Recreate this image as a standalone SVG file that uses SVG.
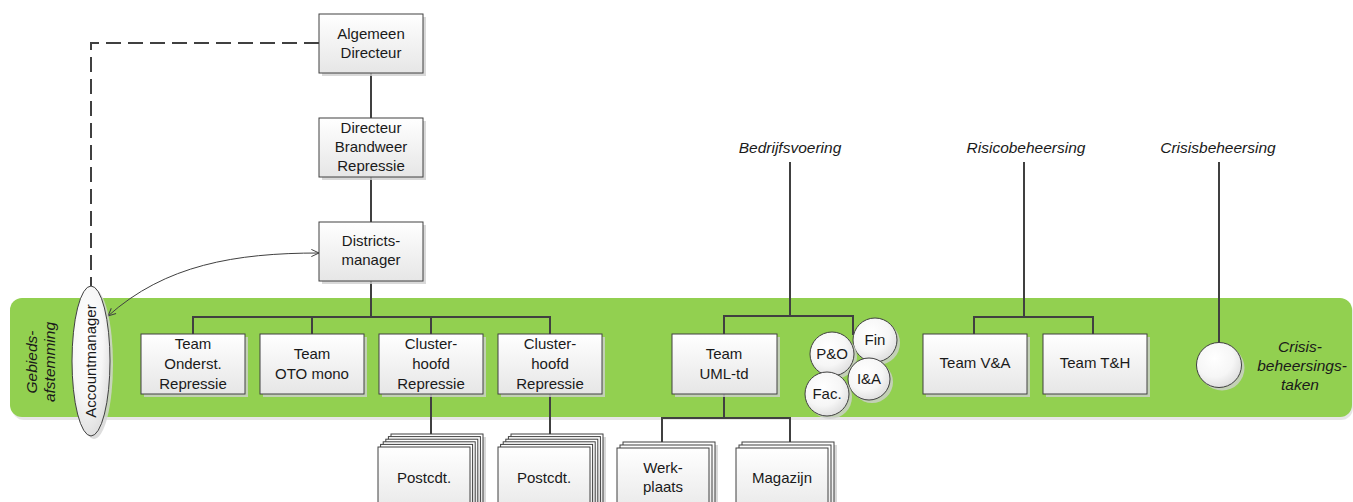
<svg xmlns="http://www.w3.org/2000/svg" width="1353" height="502" viewBox="0 0 1353 502">
<defs>
<linearGradient id="bx" x1="0" y1="0" x2="0" y2="1">
<stop offset="0" stop-color="#ffffff"/>
<stop offset="1" stop-color="#e6e6e6"/>
</linearGradient>
<radialGradient id="cg" cx="0.4" cy="0.35" r="0.7">
<stop offset="0" stop-color="#ffffff"/>
<stop offset="0.6" stop-color="#f6f6f6"/>
<stop offset="1" stop-color="#dcdcdc"/>
</radialGradient>
<marker id="oa" viewBox="0 0 10 10" refX="9.5" refY="5" markerWidth="9" markerHeight="9" markerUnits="userSpaceOnUse" orient="auto-start-reverse">
<path d="M1,1 L9.5,5 L1,9" fill="none" stroke="#404040" stroke-width="1.1"/>
</marker>
</defs>
<style>
.box{fill:url(#bx);stroke:#404040;stroke-width:1}
.sh{fill:#cfcfcf;opacity:0.8}
.circ{fill:url(#cg);stroke:#404040;stroke-width:1}
.t{font-family:"Liberation Sans",Arial,sans-serif;font-size:15px;fill:#1a1a1a;text-anchor:middle}
.ti{font-family:"Liberation Sans",Arial,sans-serif;font-size:15.5px;font-style:italic;fill:#1a1a1a;text-anchor:middle}
.ln{fill:none;stroke:#404040;stroke-width:2}
</style>
<rect width="1353" height="502" fill="#ffffff"/>

<g id="band">
<rect x="12" y="300" width="1341" height="120" rx="12" fill="#dcdcdc" opacity="0.7"/>
<rect x="10" y="298" width="1342" height="119" rx="12" fill="#92d050"/>
<text class="ti" transform="translate(37,362) rotate(-90)">Gebieds-</text>
<text class="ti" transform="translate(55,362) rotate(-90)">afstemming</text>
<text class="ti" x="1300" y="352">Crisis-</text>
<text class="ti" x="1302" y="371">beheersings-</text>
<text class="ti" x="1300" y="390">taken</text>
</g>

<g id="labels">
<text class="ti" x="790" y="153">Bedrijfsvoering</text>
<text class="ti" x="1026" y="153">Risicobeheersing</text>
<text class="ti" x="1218" y="153">Crisisbeheersing</text>
</g>

<g id="connectors">
<path class="ln" d="M319,43 H91 V287" stroke-dasharray="15,7" stroke-width="2.2"/>
<path class="ln" d="M371,73 V118 M371,177 V222 M371,281 V317"/>
<path class="ln" d="M193,334 V317 H550 V334 M312,317 V334 M431,317 V334"/>
<path class="ln" d="M431,394 V434 M550,394 V434"/>
<path class="ln" d="M724,394 V418 M662,448 V418 H790 V448"/>
<path class="ln" d="M790,162 V316 M724,334 V316 H853 V335"/>
<path class="ln" d="M1024,162 V317 M974,334 V317 H1093 V334"/>
<path class="ln" d="M1219,162 V343"/>
<path d="M108,316 C165,265 235,253 319,253" fill="none" stroke="#404040" stroke-width="1" marker-start="url(#oa)" marker-end="url(#oa)"/>
</g>

<g id="accountmanager">
<ellipse cx="94" cy="364" rx="19" ry="75" fill="#d4d4d4" opacity="0.8"/>
<ellipse cx="91" cy="361" rx="19" ry="75" class="circ"/>
<text class="t" transform="translate(96,361) rotate(-90)">Accountmanager</text>
</g>

<g id="algemeen-directeur">
<rect class="sh" x="322" y="17" width="104" height="59"/>
<rect class="box" x="319" y="14" width="104" height="59"/>
<text class="t" x="371" y="39">Algemeen</text>
<text class="t" x="371" y="58">Directeur</text>
</g>

<g id="directeur-brandweer">
<rect class="sh" x="322" y="121" width="104" height="59"/>
<rect class="box" x="319" y="118" width="104" height="59"/>
<text class="t" x="371" y="133">Directeur</text>
<text class="t" x="371" y="152">Brandweer</text>
<text class="t" x="371" y="171">Repressie</text>
</g>

<g id="districtsmanager">
<rect class="sh" x="322" y="225" width="104" height="59"/>
<rect class="box" x="319" y="222" width="104" height="59"/>
<text class="t" x="371" y="246">Districts-</text>
<text class="t" x="371" y="265">manager</text>
</g>

<g id="team-onderst">
<rect class="sh" x="144" y="337" width="104" height="60"/>
<rect class="box" x="141" y="334" width="104" height="60"/>
<text class="t" x="193" y="349">Team</text>
<text class="t" x="193" y="369">Onderst.</text>
<text class="t" x="193" y="389">Repressie</text>
</g>

<g id="team-oto">
<rect class="sh" x="263" y="337" width="104" height="60"/>
<rect class="box" x="260" y="334" width="104" height="60"/>
<text class="t" x="312" y="359">Team</text>
<text class="t" x="312" y="379">OTO mono</text>
</g>

<g id="clusterhoofd-1">
<rect class="sh" x="382" y="337" width="104" height="60"/>
<rect class="box" x="379" y="334" width="104" height="60"/>
<text class="t" x="431" y="349">Cluster-</text>
<text class="t" x="431" y="369">hoofd</text>
<text class="t" x="431" y="389">Repressie</text>
</g>

<g id="clusterhoofd-2">
<rect class="sh" x="501" y="337" width="104" height="60"/>
<rect class="box" x="498" y="334" width="104" height="60"/>
<text class="t" x="550" y="349">Cluster-</text>
<text class="t" x="550" y="369">hoofd</text>
<text class="t" x="550" y="389">Repressie</text>
</g>

<g id="team-uml">
<rect class="sh" x="675" y="337" width="105" height="60"/>
<rect class="box" x="672" y="334" width="105" height="60"/>
<text class="t" x="724" y="359">Team</text>
<text class="t" x="724" y="379">UML-td</text>
</g>

<g id="team-va">
<rect class="sh" x="926" y="337" width="104" height="60"/>
<rect class="box" x="923" y="334" width="104" height="60"/>
<text class="t" x="975" y="368">Team V&amp;A</text>
</g>

<g id="team-th">
<rect class="sh" x="1046" y="337" width="104" height="60"/>
<rect class="box" x="1043" y="334" width="104" height="60"/>
<text class="t" x="1095" y="368">Team T&amp;H</text>
</g>

<g id="fin">
<circle cx="878" cy="343" r="22" fill="#cfcfcf" opacity="0.8"/>
<circle class="circ" cx="875" cy="340" r="22"/>
<text class="t" x="875" y="345">Fin</text>
</g>
<g id="po">
<circle cx="835" cy="357" r="22" fill="#cfcfcf" opacity="0.8"/>
<circle class="circ" cx="832" cy="354" r="22"/>
<text class="t" x="832" y="359">P&amp;O</text>
</g>
<g id="ia">
<circle cx="872" cy="382" r="21" fill="#cfcfcf" opacity="0.8"/>
<circle class="circ" cx="869" cy="379" r="21"/>
<text class="t" x="869" y="384">I&amp;A</text>
</g>
<g id="fac">
<circle cx="830" cy="397" r="22" fill="#cfcfcf" opacity="0.8"/>
<circle class="circ" cx="827" cy="394" r="22"/>
<text class="t" x="827" y="399">Fac.</text>
</g>

<g id="crisis-taken">
<circle cx="1222" cy="368" r="22.5" fill="#cfcfcf" opacity="0.8"/>
<circle class="circ" cx="1219" cy="365" r="22.5"/>
</g>

<g id="postcdt-1">
<rect class="sh" x="394" y="437" width="92" height="70"/>
<rect class="box" x="391" y="434" width="92" height="70"/>
<rect class="box" x="388.4" y="436.6" width="92" height="70"/>
<rect class="box" x="385.8" y="439.2" width="92" height="70"/>
<rect class="box" x="383.2" y="441.8" width="92" height="70"/>
<rect class="box" x="380.6" y="444.4" width="92" height="70"/>
<rect class="box" x="378" y="447" width="92" height="70"/>
<text class="t" x="424" y="483">Postcdt.</text>
</g>

<g id="postcdt-2">
<rect class="sh" x="514" y="437" width="92" height="70"/>
<rect class="box" x="511" y="434" width="92" height="70"/>
<rect class="box" x="508.4" y="436.6" width="92" height="70"/>
<rect class="box" x="505.8" y="439.2" width="92" height="70"/>
<rect class="box" x="503.2" y="441.8" width="92" height="70"/>
<rect class="box" x="500.6" y="444.4" width="92" height="70"/>
<rect class="box" x="498" y="447" width="92" height="70"/>
<text class="t" x="544" y="483">Postcdt.</text>
</g>

<g id="werkplaats">
<rect class="sh" x="626" y="445" width="92" height="70"/>
<rect class="box" x="623" y="442" width="92" height="70"/>
<rect class="box" x="620" y="445" width="92" height="70"/>
<rect class="box" x="617" y="448" width="92" height="70"/>
<text class="t" x="663" y="473">Werk-</text>
<text class="t" x="663" y="492">plaats</text>
</g>

<g id="magazijn">
<rect class="sh" x="745" y="445" width="92" height="70"/>
<rect class="box" x="742" y="442" width="92" height="70"/>
<rect class="box" x="739" y="445" width="92" height="70"/>
<rect class="box" x="736" y="448" width="92" height="70"/>
<text class="t" x="782" y="483">Magazijn</text>
</g>
</svg>
